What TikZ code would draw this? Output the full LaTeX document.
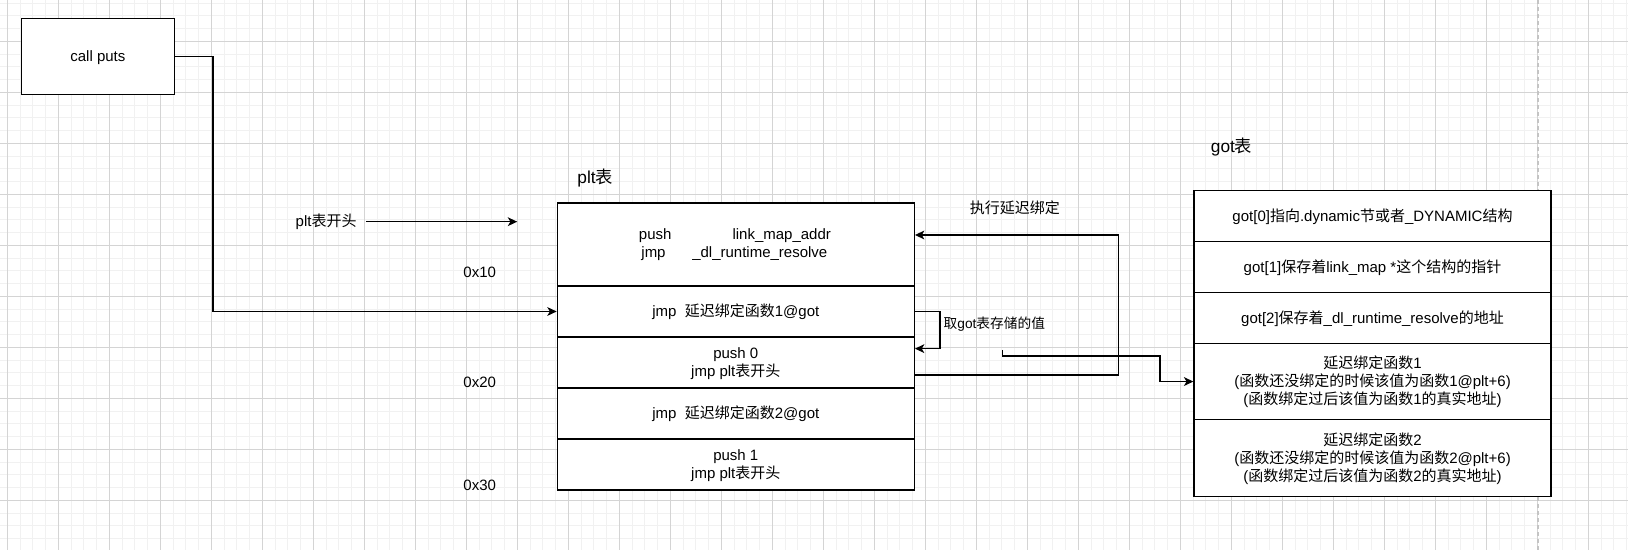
\documentclass[tikz,border=0pt]{standalone}
\usepackage{fontspec}
\setmainfont{Liberation Sans}
\newfontfamily\zhfont{Noto Sans CJK SC}
\newcommand\zh[1]{{\zhfont #1}}
\usetikzlibrary{arrows.meta,calc}
\definecolor{gmajor}{HTML}{D4D4D4}
\definecolor{gminor}{HTML}{F1F1F1}
\definecolor{pagebrk}{HTML}{C4C4C4}
\newcommand\st{\rule[-.25em]{0pt}{1.2em}}
\newcommand\ft{\fontsize{7.5}{9}\selectfont}
\newcommand\ftbig{\fontsize{8.65}{10.4}\selectfont}
\newcommand\ftsmall{\fontsize{6.85}{8.2}\selectfont}
\begin{document}
\begin{tikzpicture}[x=0.5pt,y=-0.5pt,
  minorline/.style={gminor, line width=0.5pt},
  majorline/.style={gmajor, line width=0.5pt},
  box/.style={draw=black, fill=white, line width=0.65pt, inner sep=0pt, font=\ft, align=center, minimum width=178.5pt},
  lbl/.style={inner sep=0pt, font=\ft, align=center},
  arr/.style={draw=black, line width=0.6pt, -{Stealth[length=4.7pt,width=4.4pt,inset=1.3pt]}}]
\useasboundingbox (0,0) rectangle (1628,550);
\fill[white] (0,0) rectangle (1628,550);
% grid
\foreach \i in {0,...,127} {\draw[minorline] ({7.3+12.75*\i},0) -- ({7.3+12.75*\i},550);}
\foreach \i in {0,...,43} {\draw[minorline] (0,{3.05+12.75*\i}) -- (1628,{3.05+12.75*\i});}
\foreach \i in {0,...,31} {\draw[majorline] ({7.3+51*\i},0) -- ({7.3+51*\i},550);}
\foreach \i in {0,...,9} {\draw[majorline] (0,{41.3+51*\i}) -- (1628,{41.3+51*\i});}
\draw[pagebrk, line width=0.6pt, dash pattern=on 2pt off 1.5pt] (1538,0) -- (1538,550);

% call puts
\node[box, minimum width=76.3pt, minimum height=38.2pt] (callputs) at (97.9,56.5) {\st call puts};

% labels
\node[lbl] (pltlbl) at (326.1,221.7) {\st plt\zh{表开头}};
\coordinate (pltstart) at (517.2,221.7);
\node[lbl] (hex10) at (479.7,272.7) {\st 0x10};
\node[lbl] (hex20) at (479.7,382.1) {\st 0x20};
\node[lbl] (hex30) at (479.7,485.2) {\st 0x30};
\node[lbl, font=\ftbig] (plttitle) at (595.2,177.3) {\st plt\zh{表}};
\node[lbl, font=\ftbig] (gottitle) at (1231.6,146) {\st got\zh{表}};
\node[lbl] (execlbl) at (1014.9,208.3) {\st \zh{执行延迟绑定}};
\node[lbl, font=\ftsmall, anchor=west] (fetchlbl) at (943.3,323.3) {\st \zh{取}got\zh{表存储的值}};

% plt table
\node[box, minimum height=41.5pt] (plt0) at (735.8,244.5) {};
\node[box, minimum height=25.5pt] (plt1) at (735.8,311.5) {\st jmp\ \ \zh{延迟绑定函数}1@got};
\node[box, minimum height=25.5pt] (plt2) at (735.8,362.5) {\st push 0\\\st jmp plt\zh{表开头}};
\node[box, minimum height=25.5pt] (plt3) at (735.8,413.5) {\st jmp\ \ \zh{延迟绑定函数}2@got};
\node[box, minimum height=25.5pt] (plt4) at (735.8,464.5) {\st push 1\\\st jmp plt\zh{表开头}};
\node[lbl] (pushA) at (655.2,234) {\st push};
\node[lbl] (lmaddr) at (781.7,234) {\st link\_map\_addr};
\node[lbl] (jmpA) at (653.5,252.3) {\st jmp};
\node[lbl] (dlres) at (759.8,252.3) {\st \_dl\_runtime\_resolve};

% got table
\node[box, minimum height=25.5pt] (got0) at (1372.5,215.8) {\st got[0]\zh{指向}.dynamic\zh{节或者}\_DYNAMIC\zh{结构}};
\node[box, minimum height=25.5pt] (got1) at (1372.5,266.8) {\st got[1]\zh{保存着}link\_map *\zh{这个结构的指针}};
\node[box, minimum height=25.5pt] (got2) at (1372.5,317.8) {\st got[2]\zh{保存着}\_dl\_runtime\_resolve\zh{的地址}};
\node[box, minimum height=38.25pt] (got3) at (1372.5,381.55) {\st \zh{延迟绑定函数}1\\\st (\zh{函数还没绑定的时候该值为函数}1@plt+6)\\\st (\zh{函数绑定过后该值为函数}1\zh{的真实地址})};
\node[box, minimum height=38.25pt] (got4) at (1372.5,458.05) {\st \zh{延迟绑定函数}2\\\st (\zh{函数还没绑定的时候该值为函数}2@plt+6)\\\st (\zh{函数绑定过后该值为函数}2\zh{的真实地址})};

% connectors
\draw[arr] (callputs.east) -- ++(38.2,0) |- (plt1.west);
\draw[arr] ([xshift=4.45pt]pltlbl.east) -- (pltstart);
\draw[arr] (plt1.east) -- ++(25,0) |- ([yshift=-6.15pt]plt2.north east);
\draw[arr] ([yshift=-6.25pt]plt2.east) -- ++(203.4,0) |- ([yshift=4.75pt]plt0.east);
\coordinate (gstart) at (1002.7,350);
\draw[arr] (gstart) -- ++(0,6) -- ++(157.3,0) |- (got3.west);
\end{tikzpicture}
\end{document}
